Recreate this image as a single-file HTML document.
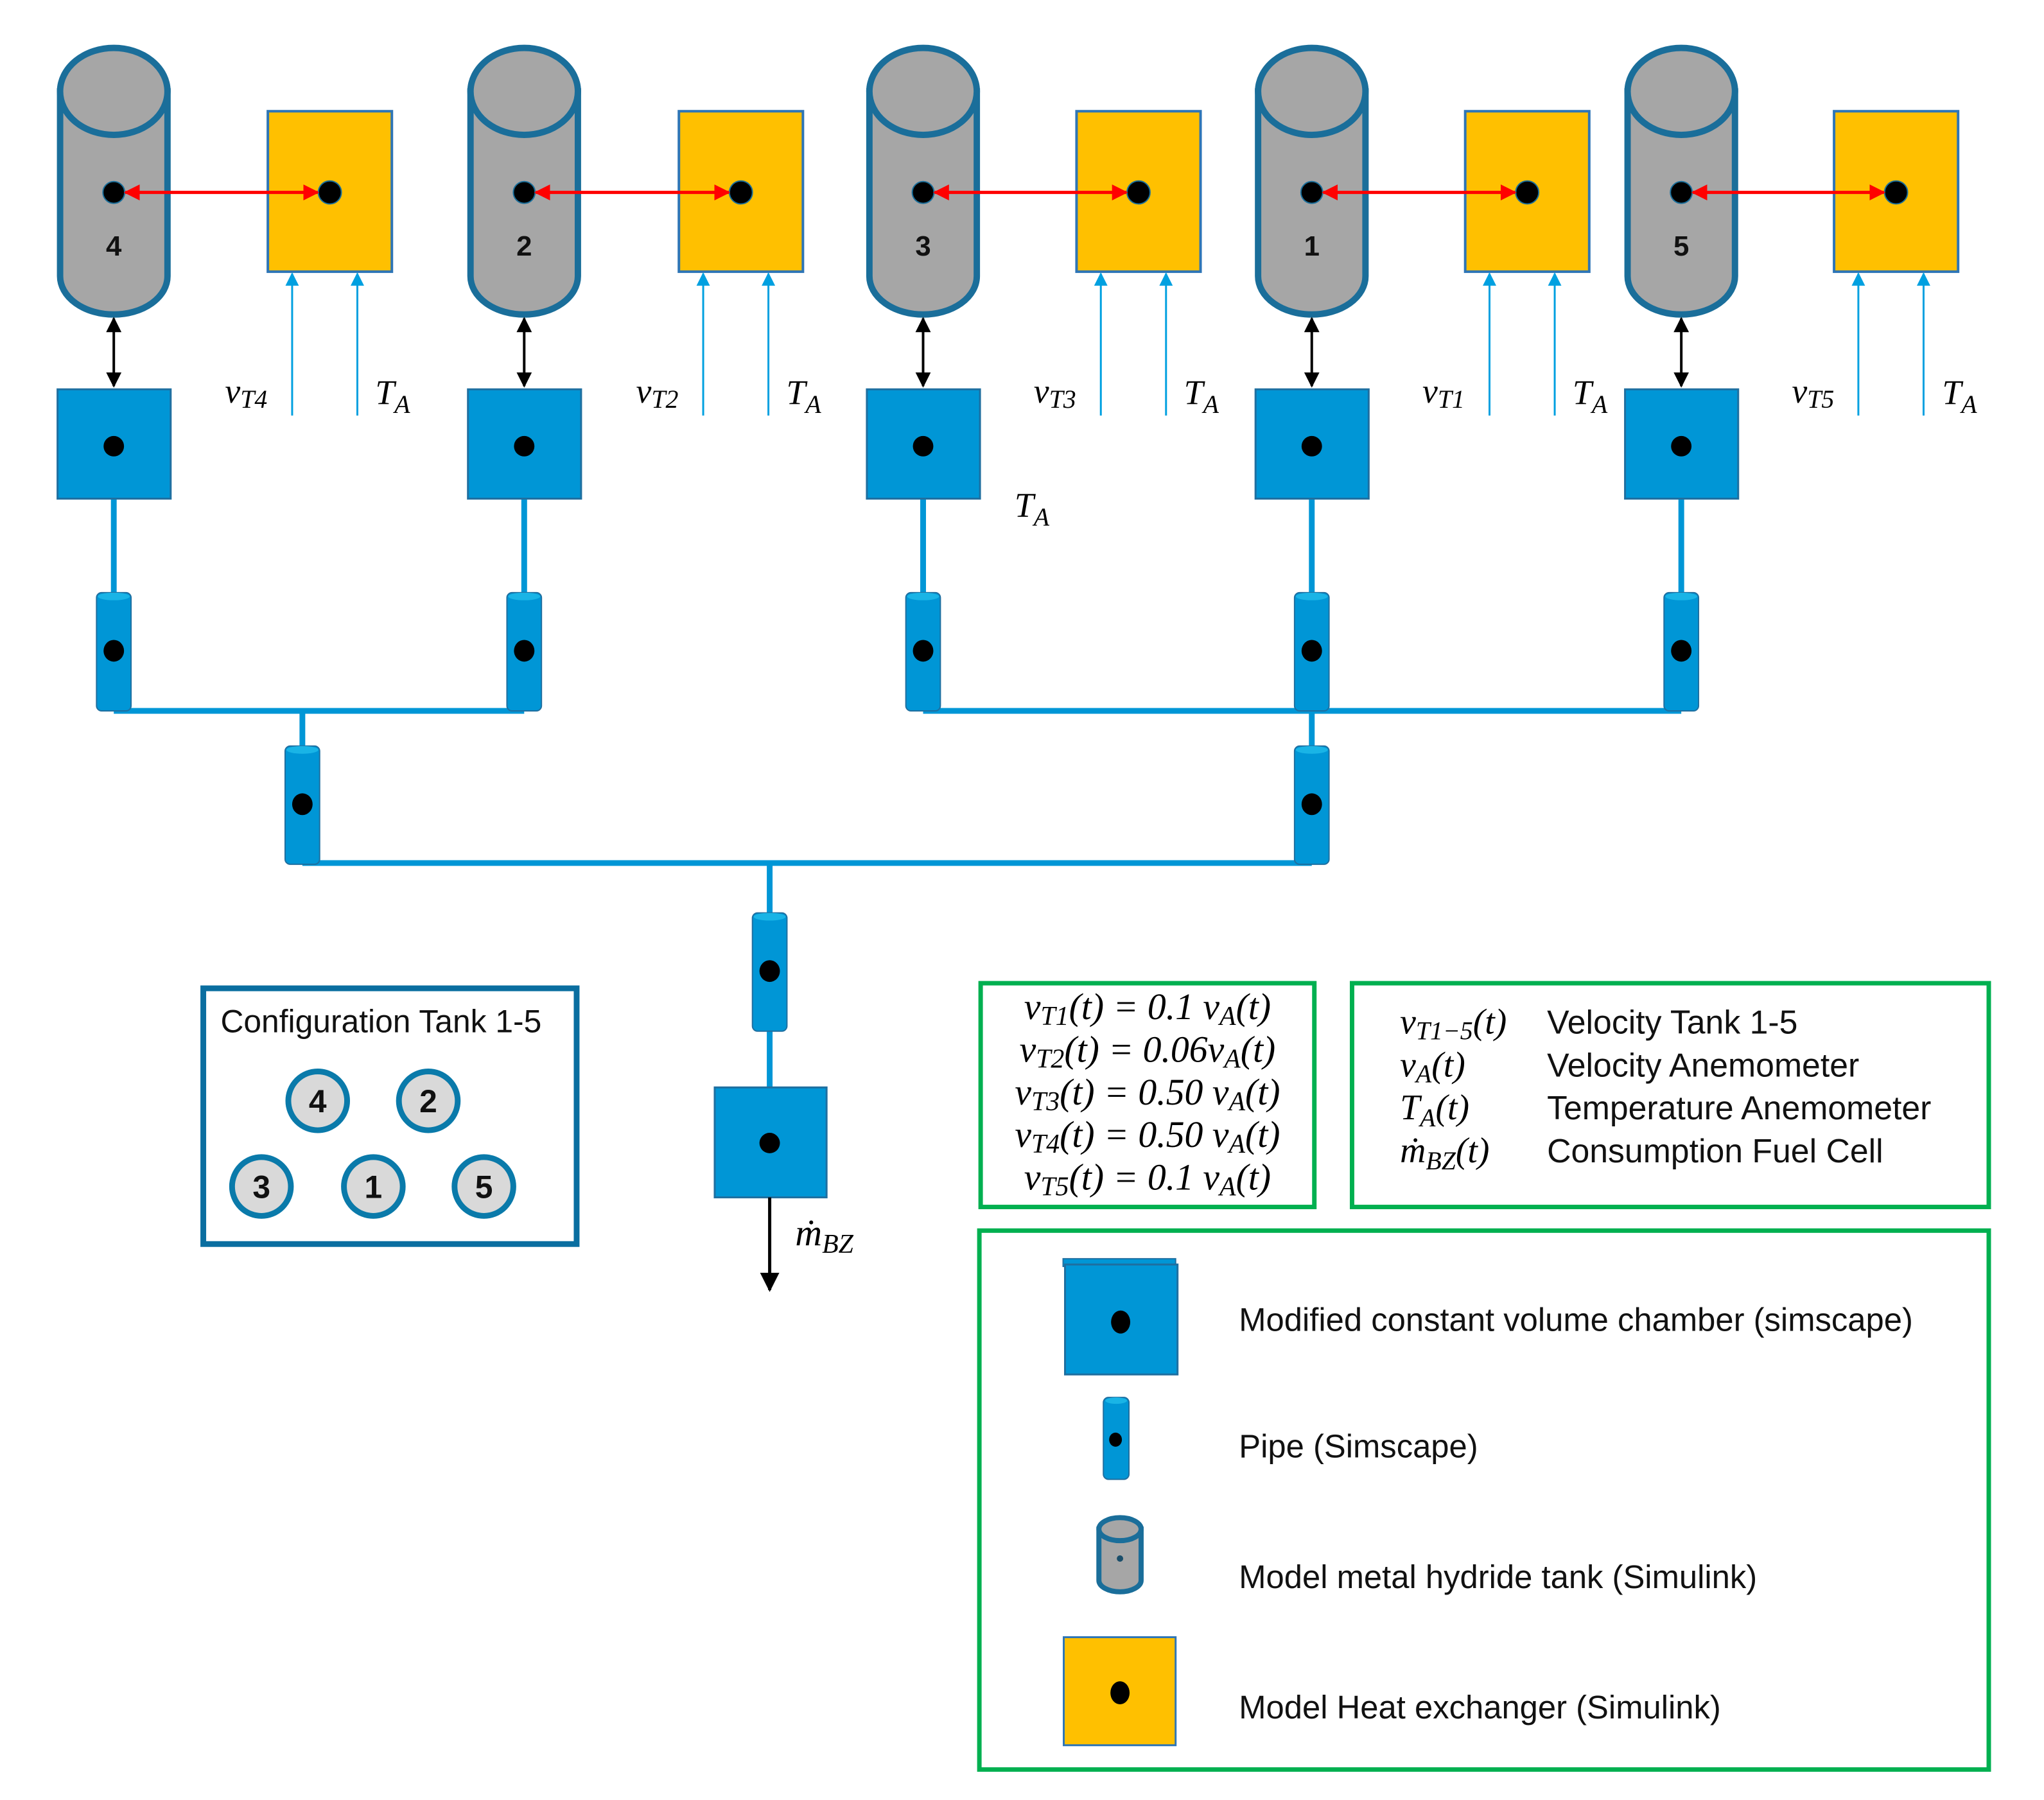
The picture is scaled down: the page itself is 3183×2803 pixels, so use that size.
<!DOCTYPE html>
<html><head><meta charset="utf-8"><style>
html,body{margin:0;padding:0;background:#fff}
svg{display:block}
.m{font-family:"Liberation Serif",serif;font-style:italic;fill:#000}
.s{font-family:"Liberation Sans",sans-serif;fill:#111}
</style></head><body>
<svg width="3183" height="2803" viewBox="0 0 3183 2803" xmlns="http://www.w3.org/2000/svg">
<defs>
<marker id="rA" viewBox="0 0 10 10" refX="9" refY="5" markerWidth="5" markerHeight="5" orient="auto-start-reverse"><path d="M0,0L10,5L0,10z" fill="#ff0000"/></marker>
<marker id="kA" viewBox="0 0 10 10" refX="9" refY="5" markerWidth="6" markerHeight="6" orient="auto-start-reverse"><path d="M0,0L10,5L0,10z" fill="#000"/></marker>
<marker id="bA" viewBox="0 0 10 10" refX="9" refY="5" markerWidth="7" markerHeight="7" orient="auto"><path d="M0,0L10,5L0,10z" fill="#00a0e0"/></marker>
<g id="tank">
<path d="M-84,143 V432 A84,60 0 0 0 84,432 V143 Z" fill="#a6a6a6" stroke="#1a6e9a" stroke-width="10"/>
<ellipse cx="0" cy="143" rx="84" ry="68" fill="#a6a6a6" stroke="#1a6e9a" stroke-width="10"/>
<circle cx="0" cy="301" r="17" fill="#000" stroke="#1a6e9a" stroke-width="2"/>
<line x1="0" y1="498" x2="0" y2="604" stroke="#000" stroke-width="4" marker-start="url(#kA)" marker-end="url(#kA)"/>
<line x1="0" y1="780" x2="0" y2="930" stroke="#0096d6" stroke-width="9"/>
<rect x="-88" y="609" width="177" height="171" fill="#0096d6" stroke="#1f6fa0" stroke-width="3"/>
<circle cx="0" cy="698" r="16" fill="#000"/>
</g>
<g id="pipe">
<rect x="-27" y="0" width="54" height="185" rx="8" fill="#0096d6" stroke="#1f6fa0" stroke-width="2"/>
<ellipse cx="0" cy="6" rx="25" ry="6" fill="#19b4e6"/>
<ellipse cx="0" cy="91" rx="16" ry="17" fill="#000"/>
</g>
<g id="hx">
<rect x="-97" y="174" width="194" height="251" fill="#ffc000" stroke="#2e75b6" stroke-width="4"/>
<circle cx="0" cy="301" r="18" fill="#000" stroke="#1a6e9a" stroke-width="2"/>
<line x1="-59" y1="650" x2="-59" y2="428" stroke="#00a0e0" stroke-width="3" marker-end="url(#bA)"/>
<line x1="43" y1="650" x2="43" y2="428" stroke="#00a0e0" stroke-width="3" marker-end="url(#bA)"/>
</g>
</defs>
<g transform="scale(0.9955)">
<g stroke="#0096d6" stroke-width="9" fill="none">
<line x1="178" y1="1112" x2="820" y2="1112"/>
<line x1="1444" y1="1112" x2="2630" y2="1112"/>
<line x1="473" y1="1112" x2="473" y2="1170"/>
<line x1="2052" y1="1112" x2="2052" y2="1170"/>
<line x1="473" y1="1350" x2="2052" y2="1350"/>
<line x1="1204" y1="1350" x2="1204" y2="1430"/>
<line x1="1204" y1="1612" x2="1204" y2="1702"/>
</g>

<use href="#tank" x="178" y="0"/>
<use href="#tank" x="820" y="0"/>
<use href="#tank" x="1444" y="0"/>
<use href="#tank" x="2052" y="0"/>
<use href="#tank" x="2630" y="0"/>
<g class="s" font-size="44" font-weight="bold" text-anchor="middle">
<text x="178" y="400">4</text><text x="820" y="400">2</text><text x="1444" y="400">3</text><text x="2052" y="400">1</text><text x="2630" y="400">5</text>
</g>

<use href="#hx" x="516" y="0"/>
<use href="#hx" x="1159" y="0"/>
<use href="#hx" x="1781" y="0"/>
<use href="#hx" x="2389" y="0"/>
<use href="#hx" x="2966" y="0"/>
<g stroke="#ff0000" stroke-width="5" marker-start="url(#rA)" marker-end="url(#rA)">
<line x1="196" y1="301" x2="497" y2="301"/>
<line x1="838" y1="301" x2="1140" y2="301"/>
<line x1="1462" y1="301" x2="1762" y2="301"/>
<line x1="2070" y1="301" x2="2370" y2="301"/>
<line x1="2648" y1="301" x2="2947" y2="301"/>
</g>

<g class="m" font-size="54">
<text x="352" y="630">v<tspan font-size="40" dy="8">T4</tspan></text>
<text x="587" y="632">T<tspan font-size="40" dy="14">A</tspan></text>
<text x="995" y="630">v<tspan font-size="40" dy="8">T2</tspan></text>
<text x="1230" y="632">T<tspan font-size="40" dy="14">A</tspan></text>
<text x="1617" y="630">v<tspan font-size="40" dy="8">T3</tspan></text>
<text x="1852" y="632">T<tspan font-size="40" dy="14">A</tspan></text>
<text x="2225" y="630">v<tspan font-size="40" dy="8">T1</tspan></text>
<text x="2460" y="632">T<tspan font-size="40" dy="14">A</tspan></text>
<text x="2803" y="630">v<tspan font-size="40" dy="8">T5</tspan></text>
<text x="3038" y="632">T<tspan font-size="40" dy="14">A</tspan></text>
<text x="1587" y="808">T<tspan font-size="40" dy="14">A</tspan></text>
</g>

<use href="#pipe" x="178" y="927"/>
<use href="#pipe" x="820" y="927"/>
<use href="#pipe" x="1444" y="927"/>
<use href="#pipe" x="2052" y="927"/>
<use href="#pipe" x="2630" y="927"/>
<use href="#pipe" x="473" y="1167"/>
<use href="#pipe" x="2052" y="1167"/>
<use href="#pipe" x="1204" y="1428"/>

<rect x="1118" y="1701" width="175" height="172" fill="#0096d6" stroke="#1f6fa0" stroke-width="3"/>
<circle cx="1204" cy="1788" r="16" fill="#000"/>
<line x1="1204" y1="1873" x2="1204" y2="2018" stroke="#000" stroke-width="5" marker-end="url(#kA)"/>
<text class="m" x="1244" y="1948" font-size="58">ṁ<tspan font-size="42" dy="12">BZ</tspan></text>

<rect x="318" y="1546" width="584" height="400" fill="#fff" stroke="#0a6ea0" stroke-width="9"/>
<text class="s" x="345" y="1615" font-size="50">Configuration Tank 1-5</text>
<g fill="#d9d9d9" stroke="#0a7aaa" stroke-width="9">
<circle cx="497" cy="1722" r="46"/><circle cx="670" cy="1722" r="46"/>
<circle cx="409" cy="1856" r="46"/><circle cx="584" cy="1856" r="46"/><circle cx="757" cy="1856" r="46"/>
</g>
<g class="s" font-size="50" font-weight="bold" text-anchor="middle">
<text x="497" y="1740">4</text><text x="670" y="1740">2</text><text x="409" y="1874">3</text><text x="584" y="1874">1</text><text x="757" y="1874">5</text>
</g>

<rect x="1534" y="1538" width="522" height="350" fill="none" stroke="#00b050" stroke-width="7"/>
<g class="m" font-size="58" text-anchor="middle">
<text x="1795" y="1594">v<tspan font-size="42" dy="9">T1</tspan><tspan dy="-9">(t) = 0.1 v</tspan><tspan font-size="42" dy="9">A</tspan><tspan dy="-9">(t)</tspan></text>
<text x="1795" y="1661">v<tspan font-size="42" dy="9">T2</tspan><tspan dy="-9">(t) = 0.06v</tspan><tspan font-size="42" dy="9">A</tspan><tspan dy="-9">(t)</tspan></text>
<text x="1795" y="1728">v<tspan font-size="42" dy="9">T3</tspan><tspan dy="-9">(t) = 0.50 v</tspan><tspan font-size="42" dy="9">A</tspan><tspan dy="-9">(t)</tspan></text>
<text x="1795" y="1794">v<tspan font-size="42" dy="9">T4</tspan><tspan dy="-9">(t) = 0.50 v</tspan><tspan font-size="42" dy="9">A</tspan><tspan dy="-9">(t)</tspan></text>
<text x="1795" y="1861">v<tspan font-size="42" dy="9">T5</tspan><tspan dy="-9">(t) = 0.1 v</tspan><tspan font-size="42" dy="9">A</tspan><tspan dy="-9">(t)</tspan></text>
</g>

<rect x="2115" y="1538" width="996" height="350" fill="none" stroke="#00b050" stroke-width="7"/>
<g class="m" font-size="56">
<text x="2190" y="1617">v<tspan font-size="40" dy="9">T1−5</tspan><tspan dy="-9">(t)</tspan></text>
<text x="2190" y="1684">v<tspan font-size="40" dy="9">A</tspan><tspan dy="-9">(t)</tspan></text>
<text x="2190" y="1751">T<tspan font-size="40" dy="11">A</tspan><tspan dy="-11">(t)</tspan></text>
<text x="2190" y="1818">ṁ<tspan font-size="40" dy="11">BZ</tspan><tspan dy="-11">(t)</tspan></text>
</g>
<g class="s" font-size="52">
<text x="2420" y="1617">Velocity Tank 1-5</text>
<text x="2420" y="1684">Velocity Anemometer</text>
<text x="2420" y="1751">Temperature  Anemometer</text>
<text x="2420" y="1818">Consumption Fuel Cell</text>
</g>

<rect x="1532" y="1925" width="1579" height="843" fill="none" stroke="#00b050" stroke-width="7"/>
<rect x="1663" y="1969" width="176" height="12" fill="#0096d6" stroke="#1f6fa0" stroke-width="2"/>
<rect x="1666" y="1978" width="176" height="172" fill="#0096d6" stroke="#1f6fa0" stroke-width="3"/>
<ellipse cx="1753" cy="2068" rx="15" ry="18" fill="#000"/>
<rect x="1726" y="2186" width="40" height="128" rx="8" fill="#0096d6" stroke="#1f6fa0" stroke-width="2"/>
<ellipse cx="1746" cy="2191" rx="17" ry="5" fill="#19b4e6"/>
<ellipse cx="1745" cy="2252" rx="10" ry="11" fill="#000"/>
<path d="M-33,2392 V2472 A33,18 0 0 0 33,2472 V2392 Z" transform="translate(1752,0)" fill="#a6a6a6" stroke="#1a6e9a" stroke-width="8"/>
<ellipse cx="1752" cy="2392" rx="33" ry="18" fill="#a6a6a6" stroke="#1a6e9a" stroke-width="8"/>
<circle cx="1752" cy="2438" r="5" fill="#1a4e6a"/>
<rect x="1664" y="2561" width="175" height="169" fill="#ffc000" stroke="#2e75b6" stroke-width="3"/>
<ellipse cx="1752" cy="2648" rx="15" ry="18" fill="#000"/>
<g class="s" font-size="51">
<text x="1938" y="2082">Modified constant volume chamber (simscape)</text>
<text x="1938" y="2280">Pipe (Simscape)</text>
<text x="1938" y="2484">Model metal hydride tank (Simulink)</text>
<text x="1938" y="2688">Model Heat exchanger (Simulink)</text>
</g>
</g>
</svg>
</body></html>
